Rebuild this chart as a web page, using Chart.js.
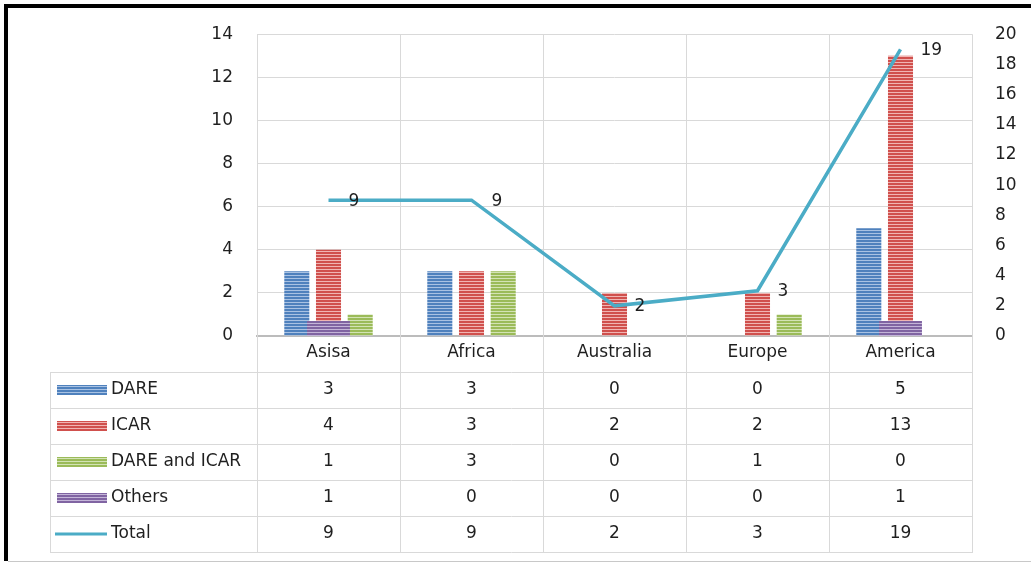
<!DOCTYPE html>
<html><head><meta charset="utf-8">
<script src="https://cdn.jsdelivr.net/npm/chart.js@4/dist/chart.umd.min.js"></script>
<style>
html,body{margin:0;padding:0;background:#fff;}
#wrap{position:relative;width:1031px;height:564px;}
canvas{display:block;}
</style></head><body>
<div id="wrap"><canvas id="c" width="1031" height="564"></canvas></div>
<script>
// ---- data ----
const categories = ['Asisa', 'Africa', 'Australia', 'Europe', 'America'];
const dare = [3, 3, 0, 0, 5];
const icar = [4, 3, 2, 2, 13];
const dareAndIcar = [1, 3, 0, 1, 0];
const others = [1, 0, 0, 0, 1];
const total = [9, 9, 2, 3, 19];
const seriesNames = ['DARE', 'ICAR', 'DARE and ICAR', 'Others', 'Total'];
const leftAxis = { min: 0, max: 14, step: 2 };
const rightAxis = { min: 0, max: 20, step: 2 };

// ---- styles ----
const FONT = 'DejaVu Sans';
const FSIZE = 17;
const TEXT = '#1f1f1f';
const GRID = '#d9d9d9';

function stripes(color, light) {
  const c = document.createElement('canvas');
  c.width = 4; c.height = 3;
  const g = c.getContext('2d');
  g.fillStyle = color; g.fillRect(0, 0, 4, 3);
  g.fillStyle = light; g.fillRect(0, 2, 4, 1);
  return g.createPattern(c, 'repeat');
}
const fills = [
  stripes('#4f81bd', '#a9c2e3'),
  stripes('#d0504d', '#f0b5b3'),
  stripes('#9bbb59', '#d3e3b5'),
  stripes('#8064a2', '#c4b5d8')
];
const lineColor = '#4bacc6';

const tableRowH = 36;
const tableLeft = 50;

const tablePlugin = {
  id: 'dataTable',
  beforeDatasetsDraw(chart) {
    const { ctx, chartArea: a, scales: { x } } = chart;
    const n = categories.length;
    const step = x.getPixelForValue(1) - x.getPixelForValue(0);
    const tableTop = a.bottom + tableRowH;
    const tableBottom = tableTop + tableRowH * seriesNames.length;
    ctx.save();
    ctx.strokeStyle = GRID;
    ctx.lineWidth = 1;
    ctx.beginPath();
    for (let i = 0; i <= n; i++) {
      const px = Math.round(x.getPixelForValue(0) - step / 2 + step * i) + 0.5;
      ctx.moveTo(px, a.top);
      ctx.lineTo(px, tableBottom);
    }
    ctx.moveTo(tableLeft + 0.5, tableTop);
    ctx.lineTo(tableLeft + 0.5, tableBottom);
    for (let r = 0; r <= seriesNames.length; r++) {
      const py = Math.round(tableTop + r * tableRowH) + 0.5;
      ctx.moveTo(tableLeft, py);
      ctx.lineTo(a.right + 1, py);
    }
    ctx.stroke();
    ctx.restore();
  },
  afterDatasetsDraw(chart) {
    const { ctx } = chart;
    const meta = chart.getDatasetMeta(4);
    ctx.save();
    ctx.font = `${FSIZE}px "${FONT}"`;
    ctx.fillStyle = TEXT;
    ctx.textAlign = 'left';
    ctx.textBaseline = 'middle';
    meta.data.forEach((pt, i) => {
      ctx.fillText(String(total[i]), pt.x + 20, pt.y + 1);
    });
    ctx.restore();
  },
  afterDraw(chart) {
    const { ctx, chartArea: a, scales: { x } } = chart;
    const tableTop = a.bottom + tableRowH;
    const rows = [dare, icar, dareAndIcar, others, total];
    ctx.save();
    ctx.font = `${FSIZE}px "${FONT}"`;
    ctx.fillStyle = TEXT;
    ctx.textBaseline = 'middle';
    rows.forEach((vals, r) => {
      const cy = tableTop + r * tableRowH + tableRowH / 2;
      // legend key
      if (r < 4) {
        ctx.fillStyle = fills[r];
        ctx.fillRect(57, Math.round(cy - 5), 50, 10);
      } else {
        ctx.strokeStyle = lineColor;
        ctx.lineWidth = 3;
        ctx.beginPath();
        ctx.moveTo(55, cy);
        ctx.lineTo(107, cy);
        ctx.stroke();
      }
      ctx.fillStyle = TEXT;
      ctx.textAlign = 'left';
      ctx.fillText(seriesNames[r], 111, cy);
      ctx.textAlign = 'center';
      vals.forEach((v, i) => {
        ctx.fillText(String(v), x.getPixelForValue(i), cy);
      });
    });
    // outer frame
    ctx.fillStyle = '#000';
    ctx.fillRect(4, 4, 1027, 4);
    ctx.fillRect(4, 4, 4, 557);
    ctx.fillStyle = '#c8c8c8';
    ctx.fillRect(8, 561, 1023, 1);
    ctx.restore();
  }
};

const ctx = document.getElementById('c').getContext('2d');
new Chart(ctx, {
  type: 'bar',
  data: {
    labels: categories,
    datasets: [
      { label: seriesNames[0], data: dare, backgroundColor: fills[0], yAxisID: 'y', order: 2 },
      { label: seriesNames[1], data: icar, backgroundColor: fills[1], yAxisID: 'y', order: 2 },
      { label: seriesNames[2], data: dareAndIcar, backgroundColor: fills[2], yAxisID: 'y', order: 2 },
      { label: seriesNames[3], data: others, backgroundColor: fills[3], yAxisID: 'y1', order: 1,
        grouped: false, barPercentage: 0.3, categoryPercentage: 1 },
      { type: 'line', label: seriesNames[4], data: total, yAxisID: 'y1', order: 0,
        borderColor: lineColor, backgroundColor: lineColor, borderWidth: 3.5,
        pointRadius: 0, tension: 0, fill: false, borderJoinStyle: 'miter' }
    ]
  },
  options: {
    responsive: false,
    animation: false,
    devicePixelRatio: 1,
    layout: { padding: { top: 33, left: 0, right: 0, bottom: 0 } },
    datasets: { bar: { categoryPercentage: 0.665, barPercentage: 0.79, borderWidth: 0 } },
    plugins: { legend: { display: false }, tooltip: { enabled: false } },
    scales: {
      x: {
        grid: { display: false, drawTicks: false },
        border: { display: true, color: '#bcbcbc', width: 2 },
        ticks: { font: { family: FONT, size: FSIZE }, color: TEXT, padding: 6, maxRotation: 0 },
        afterFit(s) { s.height = 228; }
      },
      y: {
        position: 'left',
        min: leftAxis.min, max: leftAxis.max,
        grid: { color: GRID, drawTicks: false },
        border: { display: false },
        ticks: { stepSize: leftAxis.step, font: { family: FONT, size: FSIZE }, color: TEXT, padding: 24 },
        afterFit(s) { s.width = 257; }
      },
      y1: {
        position: 'right',
        min: rightAxis.min, max: rightAxis.max,
        grid: { display: false, drawTicks: false },
        border: { display: false },
        ticks: { stepSize: rightAxis.step, font: { family: FONT, size: FSIZE }, color: TEXT, padding: 23 },
        afterFit(s) { s.width = 59; }
      }
    }
  },
  plugins: [tablePlugin]
});
</script>
</body></html>
